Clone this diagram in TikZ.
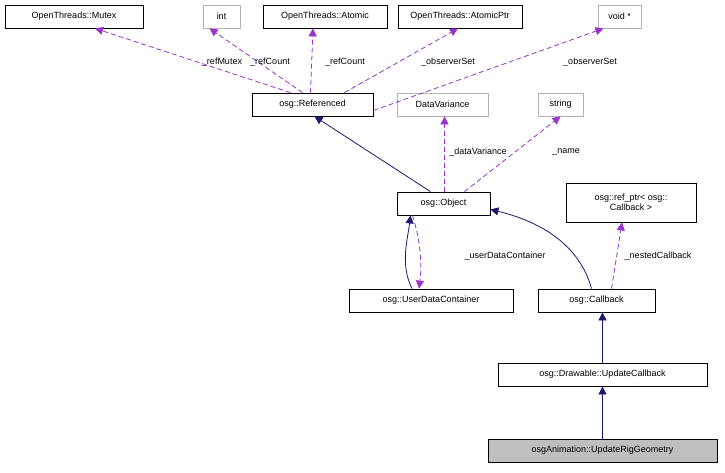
\documentclass[tikz,border=0pt]{standalone}
\usepackage{fontspec}
\setmainfont{Liberation Sans}
\usetikzlibrary{arrows.meta}
\definecolor{navy}{HTML}{191970}
\definecolor{orchid}{HTML}{9A32CD}
\begin{document}
\begin{tikzpicture}[x=1pt,y=-1pt,
  box/.style={draw=black,line width=0.8pt,fill=white,inner sep=0pt,font=\fontsize{9}{10.5}\selectfont,align=center},
  gbox/.style={box,draw=gray!60},
  inh/.style={draw=navy,line width=0.8pt,-{Triangle[length=8pt,width=8pt]}},
  use/.style={draw=orchid,line width=0.8pt,dash pattern=on 5pt off 3pt,-{Triangle[length=8pt,width=8pt]}},
  lab/.style={font=\fontsize{9}{10.5}\selectfont,inner sep=1pt}]
\useasboundingbox (0,0) rectangle (725,472);
\node[box,minimum width=138,minimum height=23] (mutex) at (74,16.5) {OpenThreads::Mutex};
\node[gbox,minimum width=37,minimum height=23] (int) at (221.5,16.5) {int};
\node[box,minimum width=124,minimum height=23] (atomic) at (325,16.5) {OpenThreads::Atomic};
\node[box,minimum width=124,minimum height=23] (aptr) at (460,16.5) {OpenThreads::AtomicPtr};
\node[gbox,minimum width=43,minimum height=23] (void) at (619.5,16.5) {void *};
\node[box,minimum width=121,minimum height=23] (ref) at (312.5,104.5) {osg::Referenced};
\node[gbox,minimum width=91,minimum height=23] (dv) at (442.5,104.5) {DataVariance};
\node[gbox,minimum width=45,minimum height=23] (str) at (560.5,104.5) {string};
\node[box,minimum width=93,minimum height=23] (obj) at (443.5,203.5) {osg::Object};
\node[box,minimum width=130,minimum height=39] (rp) at (631,202.5) {osg::ref\_ptr< osg::\\Callback >};
\node[box,minimum width=164,minimum height=23] (udc) at (431,300.5) {osg::UserDataContainer};
\node[box,minimum width=117,minimum height=23] (cb) at (596.5,300.5) {osg::Callback};
\node[box,minimum width=209,minimum height=23] (duc) at (602.5,374.5) {osg::Drawable::UpdateCallback};
\node[box,fill=gray!50,minimum width=229,minimum height=23] (urg) at (602.5,450.5) {osgAnimation::UpdateRigGeometry};

\draw[use] ([xshift=-22]ref.north) -- ([xshift=21]mutex.south);
\draw[use] ([xshift=-10]ref.north) -- ([xshift=-12]int.south);
\draw[use] ([xshift=-2]ref.north) -- ([xshift=-12]atomic.south);
\draw[use] ([xshift=32]ref.north) -- ([xshift=-2]aptr.south);
\draw[use] ([yshift=-6]ref.east) -- ([xshift=-16]void.south);
\node[lab] at (222,62) {\_refMutex};
\node[lab] at (270,62) {\_refCount};
\node[lab] at (345,62) {\_refCount};
\node[lab] at (448,62) {\_observerSet};
\node[lab] at (590,62) {\_observerSet};
\draw[inh] ([xshift=-13]obj.north) -- ([xshift=2]ref.south);
\draw[use] ([xshift=1]obj.north) -- ([xshift=2]dv.south);
\draw[use] ([xshift=21]obj.north) -- (str.south);
\node[lab] at (478,152) {\_dataVariance};
\node[lab] at (566,152) {\_name};
\draw[inh] ([xshift=-19]udc.north) .. controls +(-12,-24) and +(-3,25) .. ([xshift=-33]obj.south);
\draw[use] ([xshift=-31]obj.south) .. controls +(8,25) and +(3,-24) .. ([xshift=-12]udc.north);
\node[lab] at (505,256) {\_userDataContainer};
\draw[inh] ([xshift=-5]cb.north) .. controls +(-12,-44) and +(50,12) .. ([yshift=-6]obj.east);
\draw[use] ([xshift=15]cb.north) -- ([xshift=-9]rp.south);
\node[lab] at (658,256) {\_nestedCallback};
\draw[inh] (duc.north) -- (cb.south -| duc.north);
\draw[inh] (urg.north) -- (duc.south);
\end{tikzpicture}
\end{document}
